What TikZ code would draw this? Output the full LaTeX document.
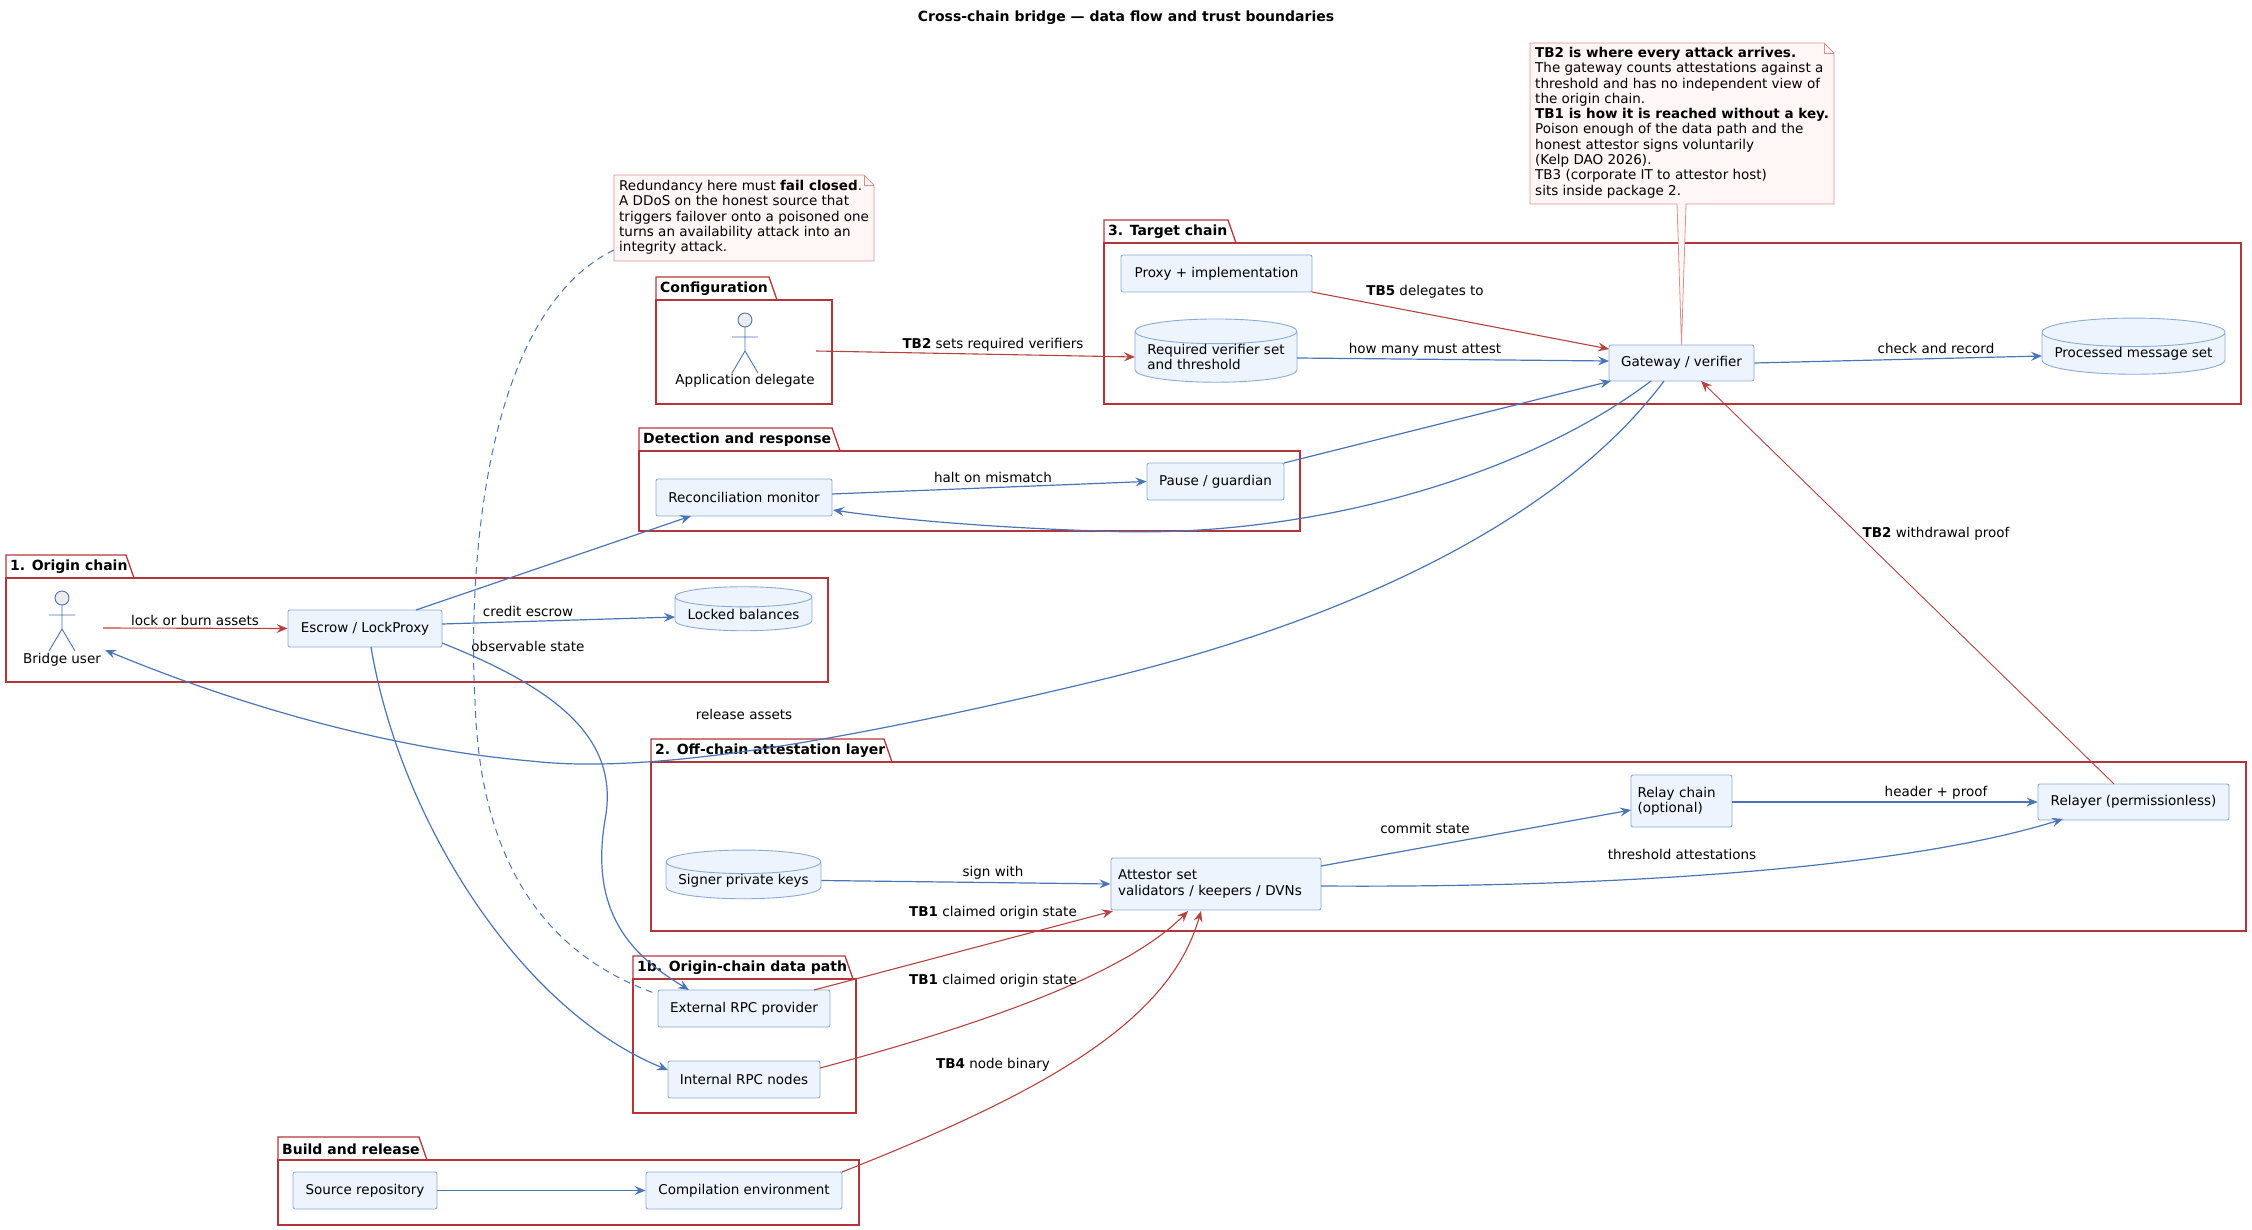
\documentclass[tikz,border=0pt]{standalone}
\usepackage{fontspec}
\setmainfont{DejaVu Sans}
\usetikzlibrary{arrows.meta,shapes.geometric}
\definecolor{bl}{HTML}{4A74B8}
\definecolor{rd}{HTML}{B5423F}
\definecolor{nfill}{HTML}{EEF4FD}
\definecolor{nbord}{HTML}{8AAAD8}
\definecolor{pk}{HTML}{B5343A}
\definecolor{notefill}{HTML}{FFF6F6}
\definecolor{notebord}{HTML}{D9908F}
\tikzset{
  every node/.style={font=\fontsize{13.5}{15.3}\selectfont},
  box/.style={draw=nbord,fill=nfill,rounded corners=2pt,line width=0.9pt,inner sep=0pt,align=left},
  db/.style={draw=nbord,fill=nfill,cylinder,shape border rotate=90,aspect=0.18,line width=0.9pt,inner sep=0pt,align=left},
  pkgline/.style={draw=pk,line width=1.3pt},
  pkgtitle/.style={font=\fontsize{14}{16}\selectfont\bfseries,anchor=west,inner sep=0pt},
  ba/.style={draw=bl,line width=1.2pt,-{Stealth[length=11pt,width=9pt,inset=4pt]}},
  ra/.style={draw=rd,line width=1.1pt,-{Stealth[length=11pt,width=9pt,inset=4pt]}},
  lbl/.style={inner sep=1pt},
  actor/.style={draw=bl,line width=0.9pt},
}
\newcommand\pkg[6]{%
  \draw[pkgline] (#1,#2+23) rectangle (#4,#5);
  \draw[pkgline] (#1,#2+23) -- (#1,#2) -- (#3-8,#2) -- (#3,#2+23);
  \node[pkgtitle] at (#1+4,#2+12) {#6};}
\newcommand\stick[2]{%
  \draw[actor,fill=gray!15] (#1,#2) circle (7);
  \draw[actor] (#1,#2+7) -- (#1,#2+31) (#1-13,#2+17) -- (#1+13,#2+17)
    (#1-13,#2+53) -- (#1,#2+31) -- (#1+13,#2+53);}
\begin{document}
\begin{tikzpicture}[x=1pt,y=-1pt]
\useasboundingbox (0,0) rectangle (2252,1230);
\node[font=\fontsize{14}{16}\selectfont\bfseries] (title) at (1126,18) {Cross-chain bridge — data flow and trust boundaries};

% packages
\pkg{656}{277}{777}{832}{404}{Configuration}
\pkg{639}{428}{840}{1300}{531}{Detection and response}
\pkg{6}{555}{134}{828}{682}{1. Origin chain}
\pkg{1104}{220}{1236}{2241}{404}{3. Target chain}
\pkg{651}{739}{892}{2246}{931}{2. Off-chain attestation layer}
\pkg{633}{956}{853}{856}{1113}{1b. Origin-chain data path}
\pkg{278}{1137}{427}{859}{1225}{Build and release}

% actors
\stick{62}{598}
\node (userlbl) at (62,660) {Bridge user};
\coordinate (userout) at (103,628);
\coordinate (userin) at (105,650);
\stick{745}{320}
\node (dellbl) at (745,381) {Application delegate};
\coordinate (delout) at (816,351);

% nodes
\node[box,minimum width=154,minimum height=37] (escrow) at (365,628.5) {Escrow / LockProxy};
\node[db,minimum width=137,minimum height=44] (locked) at (743.5,614) {Locked balances};
\node[box,minimum width=176,minimum height=37] (recon) at (744,497.5) {Reconciliation monitor};
\node[box,minimum width=137,minimum height=37] (pause) at (1215.5,481.5) {Pause / guardian};
\node[box,minimum width=191,minimum height=37] (proxy) at (1216.5,273.5) {Proxy + implementation};
\node[db,minimum width=162,minimum height=62] (req) at (1216,357) {Required verifier set\\and threshold};
\node[box,minimum width=145,minimum height=36] (gw) at (1681.5,363) {Gateway / verifier};
\node[db,minimum width=183,minimum height=45] (proc) at (2133.5,353.5) {Processed message set};
\node[db,minimum width=155,minimum height=45] (keys) at (743.5,880.5) {Signer private keys};
\node[box,minimum width=210,minimum height=52,text width=196] (att) at (1216,884) {Attestor set\\validators / keepers / DVNs};
\node[box,minimum width=101,minimum height=52,text width=88] (relay) at (1681.5,801) {Relay chain\\(optional)};
\node[box,minimum width=191,minimum height=36] (relayer) at (2133.5,802) {Relayer (permissionless)};
\node[box,minimum width=172,minimum height=37] (ext) at (744,1008.5) {External RPC provider};
\node[box,minimum width=152,minimum height=37] (int) at (744,1079.5) {Internal RPC nodes};
\node[box,minimum width=144,minimum height=37] (src) at (365,1190.5) {Source repository};
\node[box,minimum width=196,minimum height=37] (comp) at (744,1190.5) {Compilation environment};

% notes
\draw[draw=notebord,fill=notefill,line width=0.8pt] (614,175) -- (864,175) -- (874,185) -- (874,261) -- (614,261) -- cycle;
\draw[draw=notebord,line width=0.8pt] (864,175) -- (864,185) -- (874,185);
\node[anchor=north west,align=left,inner sep=0pt] (note1) at (619,180) {Redundancy here must \textbf{fail closed}.\\A DDoS on the honest source that\\triggers failover onto a poisoned one\\turns an availability attack into an\\integrity attack.};
\coordinate (n1a) at (614,250);

\draw[draw=notebord,fill=notefill,line width=0.8pt] (1530,43) -- (1824,43) -- (1834,53) -- (1834,204) -- (1686,204) -- (gw.north) -- (1677,204) -- (1530,204) -- cycle;
\draw[draw=notebord,line width=0.8pt] (1824,43) -- (1824,53) -- (1834,53);
\node[anchor=north west,align=left,inner sep=0pt] (note2) at (1535,47) {\textbf{TB2 is where every attack arrives.}\\The gateway counts attestations against a\\threshold and has no independent view of\\the origin chain.\\\textbf{TB1 is how it is reached without a key.}\\Poison enough of the data path and the\\honest attestor signs voluntarily\\(Kelp DAO 2026).\\TB3 (corporate IT to attestor host)\\sits inside package 2.};

% connectors
\draw[ra] (userout) -- (escrow.west);
\node[lbl] at (195,620) {lock or burn assets};
\draw[ba] (442,624) -- (675,617);
\node[lbl] at (528,611) {credit escrow};
\draw[ba] (416,610) -- (691,516);
\draw[ba] (442,643) .. controls (560,690) and (620,740) .. (605,820) .. controls (588,920) and (640,960) .. (689,990);
\node[lbl] at (528,646) {observable state};
\draw[ba] (371,647) .. controls (400,820) and (520,1010) .. (668,1070);
\node[lbl,fill=white,fill opacity=0] at (528,878) {observable state};
\draw[bl,line width=1pt,dash pattern=on 7pt off 5pt] (n1a) .. controls (470,320) and (470,620) .. (475,700) .. controls (480,880) and (560,960) .. (657,994);

\draw[ra] (delout) -- (1135,357);
\node[lbl] at (993,345) {\textbf{TB2} sets required verifiers};
\draw[ra] (1312,292) -- (1609,349);
\node[lbl] at (1425,292) {\textbf{TB5} delegates to};
\draw[ba] (1297,358) -- (1609,361);
\node[lbl] at (1425,350) {how many must attest};
\draw[ba] (gw.east) -- (2042,356);
\node[lbl] at (1936,348) {check and record};
\draw[ba] (832,494) -- (pause.west);
\node[lbl] at (993,477) {halt on mismatch};
\draw[ba] (1284,463) -- (1611,381);
\draw[ba] (1651,381) .. controls (1520,480) and (1300,540) .. (1100,531) .. controls (1000,528) and (900,520) .. (833,510);
\draw[ba] (1664,381) .. controls (1560,520) and (1350,620) .. (1100,680) .. controls (850,740) and (650,775) .. (531,761) .. controls (400,750) and (250,710) .. (userin);
\node[lbl] at (744,714) {release assets};
\draw[draw=rd,line width=0.9pt,-{Stealth[length=11pt,width=9pt,inset=4pt]}] (2114,784) -- (1701,381);
\node[lbl] at (1936,534) {\textbf{TB2} withdrawal proof};

\draw[ba] (keys.east) -- (att.west);
\node[lbl] at (993,873) {sign with};
\draw[ra] (814,990) -- (1113,911);
\node[lbl] at (993,913) {\textbf{TB1} claimed origin state};
\draw[ra] (820,1068) .. controls (1000,1020) and (1130,970) .. (1188,911);
\node[lbl] at (993,981) {\textbf{TB1} claimed origin state};
\draw[ra] (842,1172) .. controls (1050,1090) and (1170,1020) .. (1201,911);
\node[lbl] at (993,1065) {\textbf{TB4} node binary};
\draw[ba] (1321,866) -- (1631,810);
\node[lbl] at (1425,828) {commit state};
\draw[ba] (1321,886) .. controls (1600,888) and (1900,870) .. (2063,819);
\node[lbl] at (1682,854) {threshold attestations};
\draw[ba] (relay.east |- relayer.west) -- (relayer.west);
\node[lbl] at (1936,793) {header + proof};
\draw[ba] (src.east) -- (comp.west);
\end{tikzpicture}
\end{document}
